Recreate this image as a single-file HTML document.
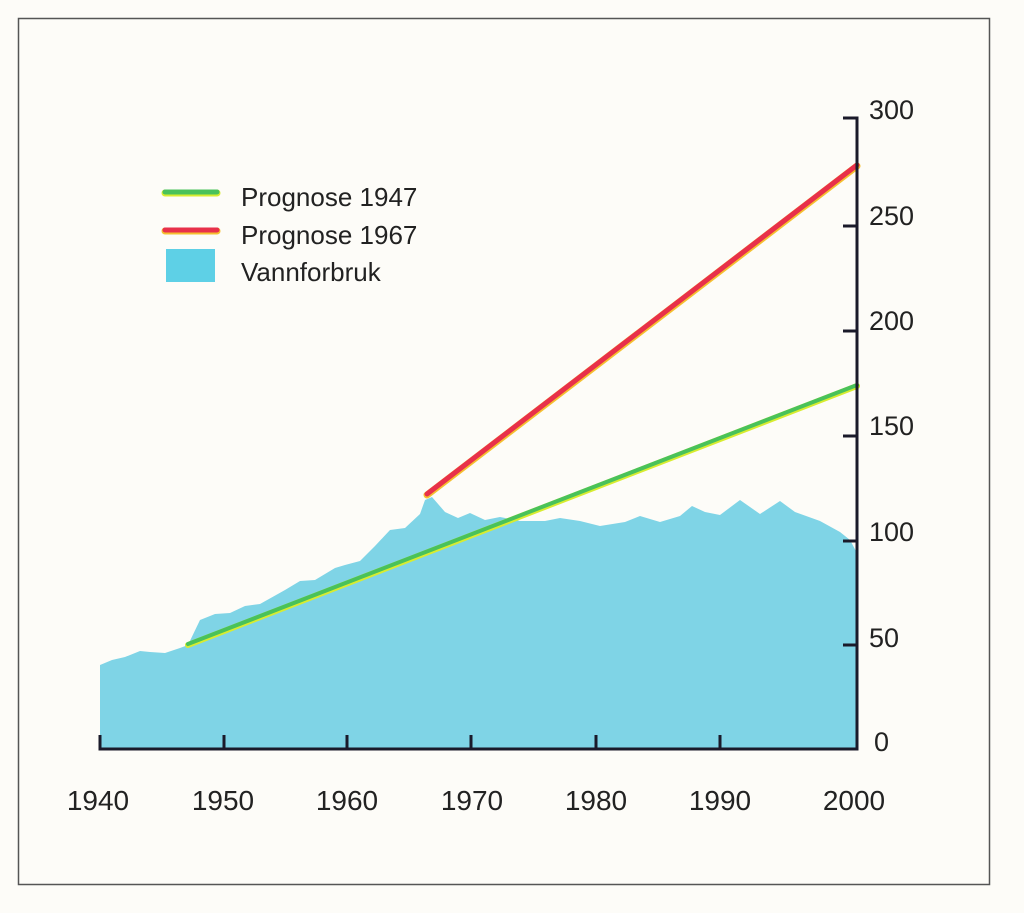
<!DOCTYPE html>
<html><head><meta charset="utf-8"><style>
body{margin:0;background:#fdfcf8;}
svg{display:block;}
text{font-family:"Liberation Sans",sans-serif;fill:#222;}
</style></head><body>
<svg width="1024" height="913" viewBox="0 0 1024 913">
<rect width="1024" height="913" fill="#fdfcf8"/>
<rect x="18.5" y="18.5" width="971" height="866" fill="none" stroke="#555" stroke-width="1.5"/>
<polygon fill="#7fd4e6" points="100,749 100,665 112,660 125,657 140,651 150,652 165,653 180,648 188,645 200,620 215,614 230,613 245,606 260,604 285,590 300,581 315,580 335,568 345,565 360,561 375,546 390,530 405,528 420,514 425,500 432,497 445,512 458,518 470,513 485,520 500,517 520,521 545,521 560,518 580,521 600,526 625,522 640,516 660,522 680,516 692,506 705,512 720,515 740,500 760,514 780,501 795,512 820,521 840,532 850,540 857,553 857,749"/>
<line x1="188" y1="645" x2="857" y2="386" stroke="#d8ec30" stroke-width="6" stroke-linecap="round"/>
<line x1="188" y1="644" x2="857" y2="385" stroke="#49c25a" stroke-width="4" stroke-linecap="round"/>
<line x1="427" y1="495" x2="857" y2="166" stroke="#f5c030" stroke-width="7" stroke-linecap="round"/>
<line x1="427" y1="494" x2="857" y2="165" stroke="#e8304a" stroke-width="5" stroke-linecap="round"/>
<g stroke="#1a1a2a" stroke-width="3" fill="none">
<path d="M100,735 V749 H857 V118 H843"/>
<path d="M224,749 V735 M347,749 V735 M471,749 V735 M596,749 V735 M720,749 V735"/>
<path d="M843,226 H857 M843,331 H857 M843,436 H857 M843,541 H857 M843,645 H857"/>
</g>
<g font-size="27" text-anchor="start">
<text x="869" y="119">300</text>
<text x="869" y="225">250</text>
<text x="869" y="330">200</text>
<text x="869" y="435">150</text>
<text x="869" y="541">100</text>
<text x="869" y="647">50</text>
<text x="874" y="751">0</text>
</g>
<g font-size="28" text-anchor="middle">
<text x="98" y="810">1940</text>
<text x="223" y="810">1950</text>
<text x="347" y="810">1960</text>
<text x="472" y="810">1970</text>
<text x="596" y="810">1980</text>
<text x="720" y="810">1990</text>
<text x="854" y="810">2000</text>
</g>
<line x1="165" y1="193" x2="217" y2="193" stroke="#d8ec30" stroke-width="7" stroke-linecap="round"/>
<line x1="165" y1="192" x2="217" y2="192" stroke="#49c25a" stroke-width="5" stroke-linecap="round"/>
<line x1="165" y1="231" x2="217" y2="231" stroke="#f5c030" stroke-width="7" stroke-linecap="round"/>
<line x1="165" y1="230" x2="217" y2="230" stroke="#e8304a" stroke-width="5" stroke-linecap="round"/>
<rect x="166" y="249" width="49" height="33" fill="#5ed0e6"/>
<g font-size="26">
<text x="241" y="206">Prognose 1947</text>
<text x="241" y="244">Prognose 1967</text>
<text x="241" y="281">Vannforbruk</text>
</g>
</svg>
</body></html>
